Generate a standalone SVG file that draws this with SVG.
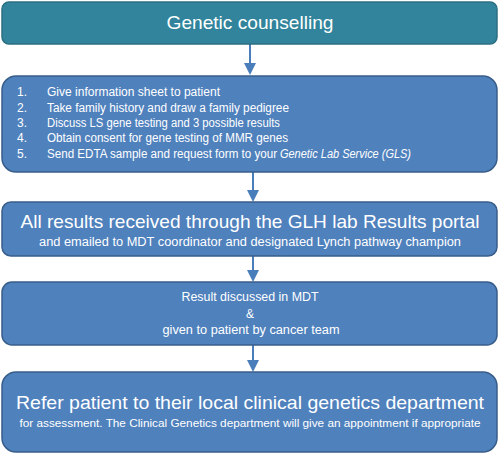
<svg xmlns="http://www.w3.org/2000/svg" width="500" height="454" viewBox="0 0 500 454">
<defs>
<style>
.box{fill:#4F81BD;stroke:#385D8A;stroke-width:1.5}
.teal{fill:#31849B;stroke:#2C6F82;stroke-width:1.5}
text{font-family:"Liberation Sans",Arial,sans-serif;fill:#FFFFFF}
.c{text-anchor:middle}
.conn{stroke:#4A7EBB;stroke-width:2;fill:none}
</style>
<marker id="ah" markerWidth="6" markerHeight="6" refX="5" refY="3" orient="auto" markerUnits="strokeWidth">
<path d="M0,0 L6,3 L0,6 z" fill="#4A7EBB"/>
</marker>
</defs>
<rect width="500" height="454" fill="#FFFFFF"/>
<g id="connectors">
<line class="conn" x1="250" y1="44" x2="250" y2="73" marker-end="url(#ah)"/>
<line class="conn" x1="253" y1="172" x2="253" y2="200" marker-end="url(#ah)"/>
<line class="conn" x1="253" y1="256" x2="253" y2="280" marker-end="url(#ah)"/>
<line class="conn" x1="253" y1="345" x2="253" y2="370" marker-end="url(#ah)"/>
</g>
<g id="node1">
<rect class="teal" x="2" y="2" width="495" height="42" rx="7"/>
<text class="c" x="250" y="29" font-size="18.5" textLength="167" lengthAdjust="spacingAndGlyphs">Genetic counselling</text>
</g>
<g id="node2">
<rect class="box" x="2" y="76" width="495" height="96" rx="14"/>
<g font-size="12">
<text x="17" y="96">1.</text><text x="47" y="96" textLength="173" lengthAdjust="spacingAndGlyphs">Give information sheet to patient</text>
<text x="17" y="111.5">2.</text><text x="47" y="111.5" textLength="242" lengthAdjust="spacingAndGlyphs">Take family history and draw a family pedigree</text>
<text x="17" y="127">3.</text><text x="47" y="127" textLength="233" lengthAdjust="spacingAndGlyphs">Discuss LS gene testing and 3 possible results</text>
<text x="17" y="142">4.</text><text x="47" y="142" textLength="241" lengthAdjust="spacingAndGlyphs">Obtain consent for gene testing of MMR genes</text>
<text x="17" y="157.5">5.</text><text x="47" y="157.5" textLength="230" lengthAdjust="spacingAndGlyphs">Send EDTA sample and request form to your</text><text x="280" y="157.5" font-style="italic" textLength="131" lengthAdjust="spacingAndGlyphs">Genetic Lab Service (GLS)</text>
</g>
</g>
<g id="node3">
<rect class="box" x="2" y="202" width="495" height="54" rx="9"/>
<text class="c" x="250" y="228" font-size="18.5" textLength="459" lengthAdjust="spacingAndGlyphs">All results received through the GLH lab Results portal</text>
<text class="c" x="250" y="245.5" font-size="12" textLength="422" lengthAdjust="spacingAndGlyphs">and emailed to MDT coordinator and designated Lynch pathway champion</text>
</g>
<g id="node4">
<rect class="box" x="2" y="282" width="495" height="63" rx="10"/>
<text class="c" x="250" y="301" font-size="12" textLength="137" lengthAdjust="spacingAndGlyphs">Result discussed in MDT</text>
<text class="c" x="250" y="317.5" font-size="12">&amp;</text>
<text class="c" x="251" y="334" font-size="12" textLength="177" lengthAdjust="spacingAndGlyphs">given to patient  by cancer team</text>
</g>
<g id="node5">
<rect class="box" x="2" y="372" width="495" height="80" rx="14"/>
<text class="c" x="250" y="409" font-size="18.5" textLength="468" lengthAdjust="spacingAndGlyphs">Refer patient to their local clinical genetics department</text>
<text class="c" x="250" y="427" font-size="11.5" textLength="461" lengthAdjust="spacingAndGlyphs">for assessment. The Clinical Genetics department will give an appointment if appropriate</text>
</g>
</svg>
